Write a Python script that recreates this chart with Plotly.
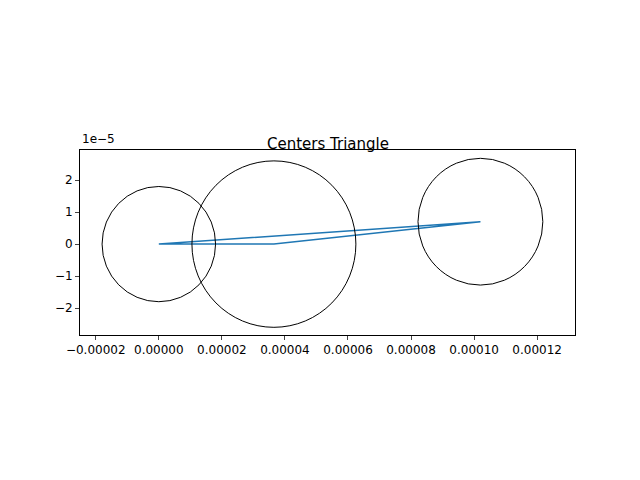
import plotly.graph_objects as go

centers_x = [0.0, 3.65e-5, 1.02e-4]
centers_y = [0.0, 0.0, 0.7e-5]
radii = [1.8e-5, 2.6e-5, 1.98e-5]
xticks = [-2e-5, 0, 2e-5, 4e-5, 6e-5, 8e-5, 1e-4, 1.2e-4]
xticklabels = ["−0.00002", "0.00000", "0.00002", "0.00004", "0.00006", "0.00008", "0.00010", "0.00012"]
yticks = [-2e-5, -1e-5, 0, 1e-5, 2e-5]
yticklabels = ["−2", "−1", "0", "1", "2"]

tx = centers_x + [centers_x[0]]
ty = centers_y + [centers_y[0]]

fig = go.Figure()
fig.add_trace(go.Scatter(x=tx, y=ty, mode="lines", line=dict(color="#1f77b4", width=1.5), showlegend=False))
for cx, cy, r in zip(centers_x, centers_y, radii):
    fig.add_shape(type="circle", xref="x", yref="y", x0=cx - r, x1=cx + r, y0=cy - r, y1=cy + r,
                  line=dict(color="black", width=1))

fig.update_layout(
    width=640, height=480, plot_bgcolor="white", paper_bgcolor="white",
    margin=dict(l=72, r=73, t=142, b=153),
    font=dict(family="DejaVu Sans", size=12, color="black"),
    title=dict(text="Centers Triangle", x=0.5, xanchor="center", y=1 - 136/480, yanchor="middle", font=dict(size=15)),
    xaxis=dict(range=[-2.5e-5, 1.32e-4], tickvals=xticks, ticktext=xticklabels, showgrid=False, zeroline=False,
               showline=True, linecolor="black", mirror=True, ticks="outside", ticklen=4),
    yaxis=dict(range=[-2.84e-5, 2.94e-5], tickvals=yticks, ticktext=yticklabels, showgrid=False, zeroline=False,
               showline=True, linecolor="black", mirror=True, ticks="outside", ticklen=4),
    annotations=[dict(text="1e−5", xref="paper", yref="paper", x=0, y=1, xanchor="left", yanchor="bottom",
                      showarrow=False, yshift=2, font=dict(size=12))],
)
fig.write_html("out.html")
